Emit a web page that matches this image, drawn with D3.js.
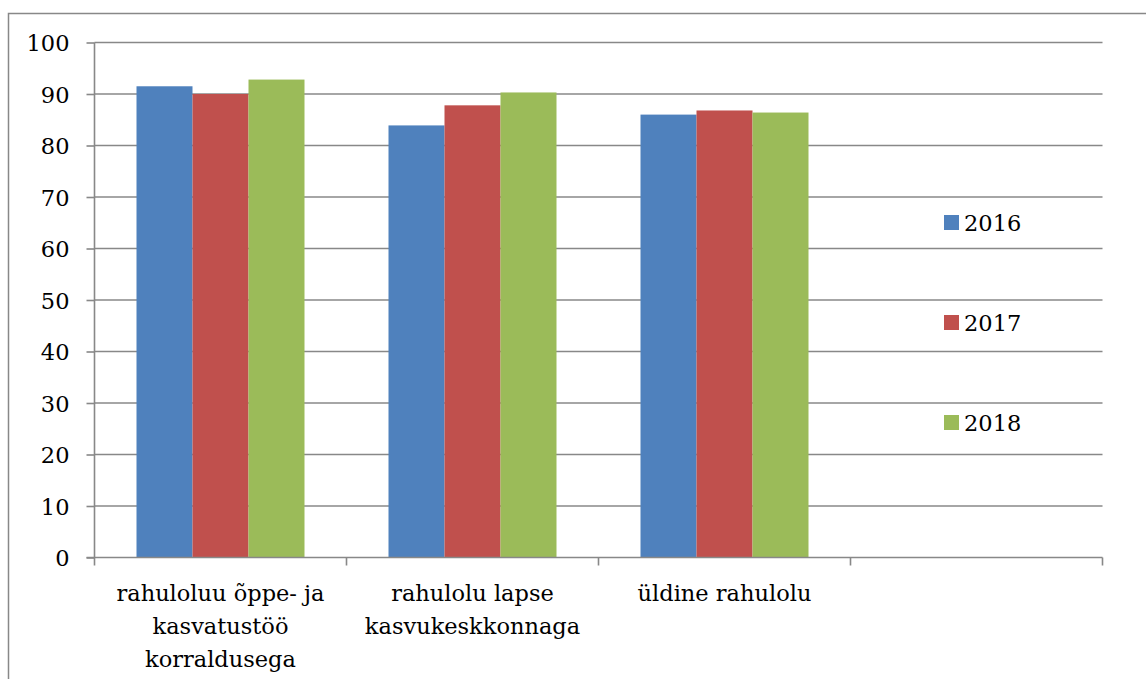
<!DOCTYPE html>
<html>
<head>
<meta charset="utf-8">
<script src="https://cdn.jsdelivr.net/npm/d3@7"></script>
<style>
  html, body { margin: 0; padding: 0; background: #fff; }
  svg { display: block; }
  text { font-family: "DejaVu Serif", serif; fill: #000; }
</style>
</head>
<body>
<svg id="chart" width="1146" height="679"></svg>
<script>
const categories = [
  ["rahuloluu õppe- ja", "kasvatustöö", "korraldusega"],
  ["rahulolu lapse", "kasvukeskkonnaga"],
  ["üldine rahulolu"],
  []
];
const series = ["2016", "2017", "2018"];
const values2016 = [91.5, 83.9, 86.0];
const values2017 = [90.0, 87.8, 86.8];
const values2018 = [92.8, 90.3, 86.4];
const yTicks = [0, 10, 20, 30, 40, 50, 60, 70, 80, 90, 100];
const colors = ["#4F81BD", "#C0504D", "#9BBB59"];

const allValues = [values2016, values2017, values2018];

const svg = d3.select("#chart");
const pLeft = 94.5, pRight = 1102.5, pTop = 42.5, pBottom = 557.5;
const fs = "22.5px";

// outer border
svg.append("path")
  .attr("d", `M8.5,679 L8.5,13.5 L1146,13.5`)
  .attr("fill", "none").attr("stroke", "#888").attr("stroke-width", 1.5);

const x0 = d3.scaleBand().domain(d3.range(categories.length)).range([pLeft, pRight]).padding(0);
const x1 = d3.scaleBand().domain(series).range([0, x0.bandwidth()]).paddingInner(0).paddingOuter(0.75);
const y = d3.scaleLinear().domain([0, 100]).range([pBottom, pTop]);

// gridlines
svg.append("g").selectAll("line").data(yTicks.filter(t => t > 0)).join("line")
  .attr("x1", pLeft).attr("x2", pRight)
  .attr("y1", d => y(d)).attr("y2", d => y(d))
  .attr("stroke", "#888").attr("stroke-width", 1.6);

// bars
const groups = svg.append("g").selectAll("g").data(values2016.map((_, i) => i)).join("g")
  .attr("transform", i => `translate(${x0(i)},0)`);
groups.selectAll("rect").data(i => series.map((s, j) => ({s, v: allValues[j][i], j}))).join("rect")
  .attr("x", d => x1(d.s)).attr("width", x1.bandwidth())
  .attr("y", d => y(d.v)).attr("height", d => y(0) - y(d.v))
  .attr("fill", d => colors[d.j]);

// y axis
const yAxis = d3.axisLeft(y).tickValues(yTicks).tickSize(8).tickPadding(17);
const gy = svg.append("g").attr("transform", `translate(${pLeft},0)`).call(yAxis);
gy.selectAll("line, path").attr("stroke", "#888").attr("stroke-width", 1.6);
gy.selectAll("text").style("font-size", fs).style("font-family", "DejaVu Serif").attr("dy", "0.36em");
gy.select(".domain").attr("d", `M0,${pBottom}V${pTop}`);

// x axis
const gx = svg.append("g").attr("transform", `translate(0,${pBottom})`);
gx.append("line").attr("x1", pLeft - 8).attr("x2", pRight).attr("y1", 0).attr("y2", 0)
  .attr("stroke", "#888").attr("stroke-width", 1.6);
const tickPos = d3.range(categories.length + 1).map(i => i < categories.length ? x0(i) : x0(categories.length - 1) + x0.bandwidth());
gx.selectAll("line.tick").data(tickPos).join("line").attr("class", "tick")
  .attr("x1", d => d).attr("x2", d => d).attr("y1", 0).attr("y2", 8)
  .attr("stroke", "#888").attr("stroke-width", 1.6);

// category labels
categories.forEach((lines, i) => {
  const cx = x0(i) + x0.bandwidth() / 2;
  const t = svg.append("text").attr("text-anchor", "middle").style("font-size", fs);
  lines.forEach((ln, k) => {
    t.append("tspan").attr("x", cx).attr("y", pBottom + 43 + k * 33).text(ln);
  });
});

// legend
const legendY = [222, 322, 422];
series.forEach((s, j) => {
  svg.append("rect").attr("x", 944).attr("y", legendY[j] - 7).attr("width", 15).attr("height", 15).attr("fill", colors[j]);
  svg.append("text").attr("x", 964).attr("y", legendY[j] + 9).style("font-size", fs).text(s);
});
</script>
</body>
</html>
